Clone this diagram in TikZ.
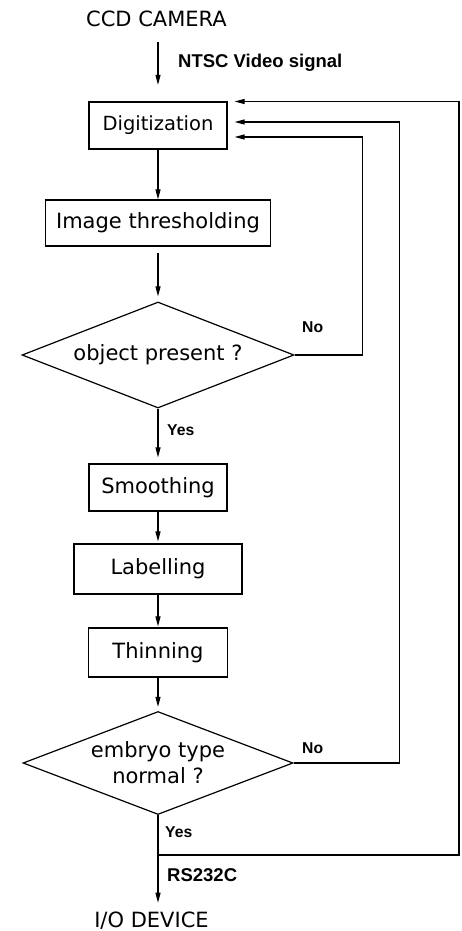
\documentclass[tikz,border=0pt]{standalone}
\usepackage{fontspec}
\setmainfont{DejaVu Sans}
\newfontfamily\lblfont{Liberation Sans}
\usetikzlibrary{arrows.meta,shapes.geometric,calc}
\begin{document}
\begin{tikzpicture}[x=1pt,y=-1pt]
\tikzset{
  box/.style={draw, line width=1.2pt, inner sep=0pt, font=\fontsize{21}{26}\selectfont},
  dec/.style={draw, diamond, aspect=2.57, inner sep=0pt, line width=1.2pt, align=center, font=\fontsize{21}{26}\selectfont},
  arr/.style={line width=1.1pt, -{Triangle[length=10pt,width=5pt]}},
  lbl/.style={inner sep=0pt, anchor=base west, font=\lblfont\bfseries\fontsize{18.5}{20}\selectfont},
  lbls/.style={inner sep=0pt, anchor=base west, font=\lblfont\bfseries\fontsize{15.7}{18}\selectfont},
  ttl/.style={inner sep=0pt, anchor=base, font=\fontsize{21}{26}\selectfont},
}
\useasboundingbox[fill=white] (0,0) rectangle (462,931);

\node[ttl] (ccd) at (156.5,27) {CCD CAMERA};
\node[box, minimum width=138pt, minimum height=47pt, font=\fontsize{19.5}{24}\selectfont] (dig) at (158,125.5) {Digitization};
\node[box, minimum width=225pt, minimum height=46pt] (thr) at (158,223) {Image thresholding};
\node[dec, minimum width=272pt, minimum height=106pt] (obj) at (158,355) {object present ?};
\node[box, minimum width=138pt, minimum height=47pt] (smo) at (158,487.5) {Smoothing};
\node[box, minimum width=168pt, minimum height=50pt] (lab) at (158,569) {Labelling};
\node[box, minimum width=139pt, minimum height=49pt] (thi) at (158,652.5) {Thinning};
\node[dec, minimum width=270pt, minimum height=103pt] (emb) at (158,763) {embryo type\\normal ?};
\node[ttl] (io) at (151.5,927) {I/O DEVICE};

\node[lbl] (ntsc) at (178,68) {NTSC Video signal};
\node[lbls] (yes1) at (167,435) {Yes};
\node[lbls] (no1) at (302,332) {No};
\node[lbls] (no2) at (302,753) {No};
\node[lbls] (yes2) at (165,837) {Yes};
\node[lbl] (rs) at (167,881) {RS232C};

\coordinate (j) at (158,855);

\draw[arr, shorten <=15pt, shorten >=16.5pt] (dig.north |- ccd.south) -- (dig.north);
\draw[arr] (dig) -- (thr);
\draw[arr, shorten <=6pt, shorten >=5pt] (thr) -- (obj);
\draw[arr, shorten >=6pt] (obj) -- (smo);
\draw[arr, shorten >=2pt] (smo) -- (lab);
\draw[arr, shorten >=1pt] (lab) -- (thi);
\draw[arr, shorten >=4pt] (thi) -- (emb);
\draw[arr, shorten >=8.5pt] (emb.south) -- (emb.south |- io.north);

\draw[arr, shorten >=7pt] (obj.east) -- ++(68,0) |- ($(dig.east)+(0,11.5)$);
\draw[arr, shorten >=7pt] (emb.east) -- ++(106,0) |- ($(dig.east)+(0,-3.5)$);
\draw[arr, shorten >=7pt] (j) -- (459,855) |- ($(dig.east)+(0,-24)$);
\end{tikzpicture}
\end{document}
